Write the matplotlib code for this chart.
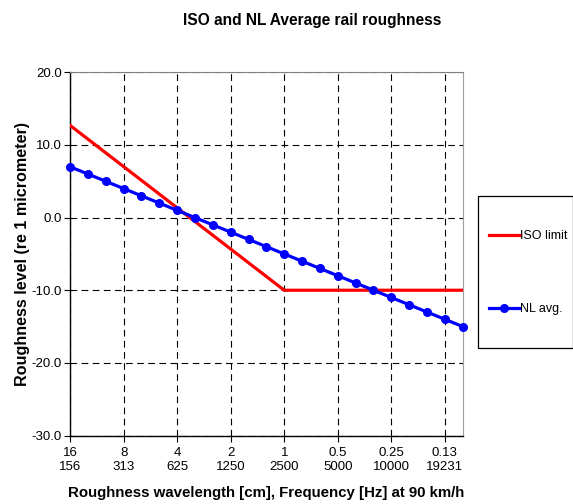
import matplotlib
matplotlib.use("Agg")
import matplotlib.pyplot as plt
from matplotlib.ticker import FixedLocator, FixedFormatter
from matplotlib.patches import Rectangle

plt.rcParams['font.family'] = ['Liberation Sans', 'DejaVu Sans']

# third-octave wavelength bands (cm), 16 cm ... 0.1 cm
wavelengths = ["16", "12.5", "10", "8", "6.3", "5", "4", "3.15", "2.5", "2", "1.6",
               "1.25", "1", "0.8", "0.63", "0.5", "0.4", "0.315", "0.25", "0.2",
               "0.16", "0.13", "0.1"]
tick_wl = ["16", "8", "4", "2", "1", "0.5", "0.25", "0.13"]
tick_freq = ["156", "313", "625", "1250", "2500", "5000", "10000", "19231"]

nl_avg = [7.0, 6.0, 5.0, 4.0, 3.0, 2.0, 1.0, 0.0, -1.0, -2.0, -3.0, -4.0, -5.0,
          -6.0, -7.0, -8.0, -9.0, -10.0, -11.0, -12.0, -13.0, -14.0, -15.0]
iso_wl = ["16", "1", "0.1"]
iso_limit = [12.7, -10.0, -10.0]

x_nl = [wavelengths.index(w) for w in wavelengths]
x_iso = [wavelengths.index(w) for w in iso_wl]
tick_pos = [wavelengths.index(w) for w in tick_wl]

fig = plt.figure(figsize=(5.73, 5.04), dpi=100)
ax = fig.add_axes([0.1222, 0.1359, 0.6853, 0.7206])

ax.plot(x_iso, iso_limit, color='#ff0000', lw=2.3, label='ISO limit', zorder=3)
ax.plot(x_nl, nl_avg, color='#0000ff', lw=2.3, marker='o', ms=5.5,
        label='NL avg.', zorder=4, clip_on=False)

ax.set_xlim(0, 22)
ax.set_ylim(-30, 20)
ax.set_yticks([-30, -20, -10, 0, 10, 20])
ax.set_yticklabels([f"{v:.1f}" for v in [-30, -20, -10, 0, 10, 20]])
ax.xaxis.set_major_locator(FixedLocator(tick_pos))
ax.xaxis.set_major_formatter(FixedFormatter([f"{a}\n{b}" for a, b in zip(tick_wl, tick_freq)]))
for t in ax.get_xticklabels():
    t.set_linespacing(1.3)

ax.grid(True, color='black', linestyle=(0, (6, 4)), linewidth=0.8)
ax.tick_params(direction='out', length=4, width=0.8, labelsize=9.5, colors='black', pad=2)
ax.tick_params(axis='x', pad=4)

for s in ['left', 'bottom']:
    ax.spines[s].set_color('black')
    ax.spines[s].set_linewidth(1.0)
ax.spines['top'].set_color('#808080')
ax.spines['right'].set_color('#a0a0a0')

ax.set_xlabel('Roughness wavelength [cm], Frequency [Hz] at 90 km/h',
              fontsize=10.8, fontweight='bold', labelpad=9)
ax.set_ylabel('Roughness level (re 1 micrometer)', fontsize=11.6, fontweight='bold', labelpad=1)

fig.text(312 / 573, 1 - 20.7 / 504, 'ISO and NL Average rail roughness',
         ha='center', va='center', fontsize=11.2, fontweight='bold')

# legend frame
fig.patches.append(Rectangle((477.7 / 573, 1 - 347.7 / 504), (572.5 - 477.7) / 573,
                             151.7 / 504, transform=fig.transFigure, fill=True,
                             facecolor='white', edgecolor='black', linewidth=0.9,
                             zorder=-1))

leg = ax.legend(loc='center left', bbox_to_anchor=(489 / 573, 1 - 272.5 / 504),
                bbox_transform=fig.transFigure, fontsize=9, frameon=False,
                borderpad=0, handlelength=2.45, handletextpad=0.05,
                labelspacing=4.9, borderaxespad=0)

fig.savefig('out.png', dpi=100)
